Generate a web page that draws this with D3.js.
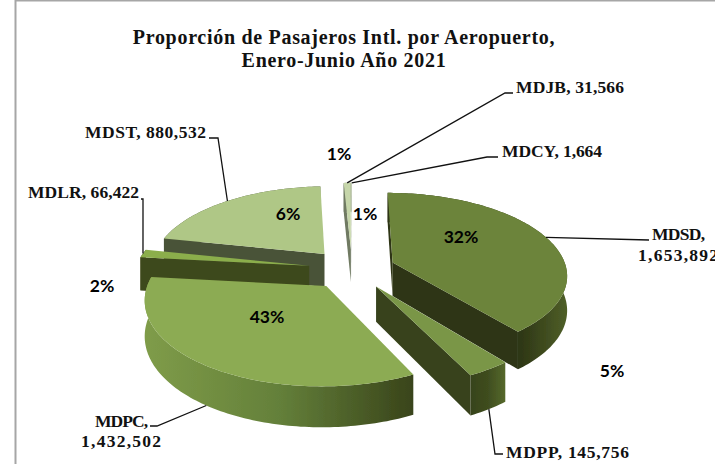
<!DOCTYPE html>
<html>
<head>
<meta charset="utf-8">
<title>Pasajeros Intl. por Aeropuerto</title>
<script src="https://cdn.jsdelivr.net/npm/d3@7"></script>
<style>
    html, body { margin: 0; padding: 0; background: #fff; }
    svg { display: block; }
    .title, .label { font-family: "Liberation Serif", serif; font-weight: bold; fill: #111; }
    .title { font-size: 20px; letter-spacing: 0.7px; }
    .label { font-size: 17.5px; }
    .pct { font-family: Lato, sans-serif; font-weight: bold; font-size: 17.5px; fill: #000; text-anchor: middle; }
</style>
</head>
<body>
<div id="chart"></div>
<script>
// data (clockwise from the top of the pie)
const airports = ["MDSD", "MDPP", "MDPC", "MDLR", "MDST", "MDJB", "MDCY"];
const passengers = [1653892, 145756, 1432502, 66422, 880532, 31566, 1664];
// the percentages printed on the chart do not follow the values, kept as printed
const printedPercents = ["32%", "5%", "43%", "2%", "6%", "1%", "1%"];
const titleLines = ["Proporción de Pasajeros Intl. por Aeropuerto,", "Enero-Junio Año 2021"];

// Setting the dimensions
const width = 715, height = 464;
const center = {x: 352, y: 269};
const radiusX = 174, radiusY = 81;
const explode = 0.25, perspective = 0.14, depth = 34;

// Colors of the top faces and side walls
const topColor = d3.scaleOrdinal().domain(airports)
    .range(["#6c843a", "#7a9647", "#8cab53", "#8bae4c", "#afc786", "#c6d6aa", "#c6d6aa"]);
const wallColor = d3.scaleOrdinal().domain(airports)
    .range(["#2d3515", "#37431b", "#3f4a1e", "#3e481b", "#4a5339", "#6f7a62", "#6f7a62"]);
const rimStops = {
    MDSD: ["#2d3515", "#2d3515", "#2d3515", "#2f3816", "#4f5f28"],
    MDPP: ["#37431b", "#3f4d1f", "#56692c"],
    MDPC: ["#7f9c49", "#64803a", "#39441a"],
    MDLR: ["#3e481b", "#3e481b"],
    MDST: ["#4a5339", "#4a5339"],
    MDJB: ["#6f7a62", "#6f7a62"],
    MDCY: ["#6f7a62", "#6f7a62"]
};

// Where the labels sit: line start, optional elbow, text lines as x, baseline, width
const labelLayout = {
    MDSD: {start: [649, 240], lines: [{x: 652, y: 240, w: 53, text: d => d.name + ","}, {x: 638, y: 261, w: 80, text: d => format(d.value)}]},
    MDPP: {start: [503, 454], elbow: [495, 454], lines: [{x: 506, y: 458, w: 123, text: d => d.name + ", " + format(d.value)}]},
    MDPC: {start: [150, 426], elbow: [157, 426], lines: [{x: 95, y: 427, w: 53, text: d => d.name + ","}, {x: 81, y: 447, w: 80, text: d => format(d.value)}]},
    MDLR: {start: [141, 199], elbow: [143, 199], lines: [{x: 28, y: 198, w: 111, text: d => d.name + ", " + format(d.value)}]},
    MDST: {start: [209, 138], elbow: [218, 138], lines: [{x: 85, y: 138, w: 121, text: d => d.name + ", " + format(d.value)}]},
    MDJB: {start: [513, 93], elbow: [505, 93], lines: [{x: 516, y: 93, w: 108, text: d => d.name + ", " + format(d.value)}]},
    MDCY: {start: [498, 157], elbow: [487, 157], lines: [{x: 502, y: 157, w: 100, text: d => d.name + ", " + format(d.value)}]}
};
const percentLayout = [[461, 243], [612, 377], [267, 323], [102, 292], [288, 220], [339, 160], [365, 220]];

const format = d3.format(",");

const svg = d3.select("#chart").append("svg")
    .attr("width", width)
    .attr("height", height);

// Chart frame, only the top and left edges fall inside the crop
svg.append("path")
    .attr("d", "M15.5," + height + "V0.5H" + width)
    .attr("fill", "none")
    .attr("stroke", "#a6a6a6")
    .attr("stroke-width", 2);

// Ground plane to screen
const x = d3.scaleLinear().domain([-1, 1]).range([center.x - radiusX, center.x + radiusX]);
const y = d3.scaleLinear().domain([-1, 1]).range([center.y + radiusY, center.y - radiusY]);

function project(px, py, drop) {
    const s = 1 / (1 + perspective * py);
    return [x(px * s), y(py * s) + (drop ? depth * s : 0)];
}

const pie = d3.pie().sort(null).value(function(d) { return d.value; });
const slices = pie(airports.map(function(name, i) {
    return {name: name, value: passengers[i], pct: printedPercents[i]};
}));

slices.forEach(function(d) {
    d.mid = (d.startAngle + d.endAngle) / 2;
    d.ox = explode * Math.sin(d.mid);
    d.oy = explode * Math.cos(d.mid);
    d.point = function(angle, r, drop) {
        return project(d.ox + r * Math.sin(angle), d.oy + r * Math.cos(angle), drop);
    };
    d.arc = function(drop) {
        const steps = Math.max(2, Math.ceil((d.endAngle - d.startAngle) / 0.02));
        return d3.range(steps + 1).map(function(i) {
            return d.point(d.startAngle + (d.endAngle - d.startAngle) * i / steps, 1, drop);
        });
    };
});

const line = d3.line();

const defs = svg.append("defs");
defs.append("filter").attr("id", "soft")
    .append("feGaussianBlur").attr("stdDeviation", 0.45);

const pieLayer = svg.append("g").attr("filter", "url(#soft)");

// a wall is seen only when it hangs on the side away from the slice interior
function wallVisible(d, angle) {
    const a = d.point(0, 0, false), b = d.point(angle, 1, false);
    const c = d.point(d.mid, 0.7, false);
    const ex = b[0] - a[0], ey = b[1] - a[1];
    return ex * (c[1] - a[1]) - ey * (c[0] - a[0]) > 0 !== ex > 0;
}

// Drawing the slices from back to front
slices.slice().sort(function(a, b) { return b.oy - a.oy; }).forEach(function(d, i) {
    const top = d.arc(false), bottom = d.arc(true);
    const g = pieLayer.append("g").attr("class", "slice");

    const stops = rimStops[d.data.name];
    const gradient = defs.append("linearGradient")
        .attr("id", "rim" + i)
        .attr("gradientUnits", "userSpaceOnUse")
        .attr("x1", d3.min(top, function(p) { return p[0]; }))
        .attr("x2", d3.max(top, function(p) { return p[0]; }))
        .attr("y1", 0).attr("y2", 0);
    stops.forEach(function(color, k) {
        gradient.append("stop").attr("offset", k / (stops.length - 1)).attr("stop-color", color);
    });

    g.append("path")
        .attr("d", line(top.concat(bottom.slice().reverse())) + "Z")
        .attr("fill", "url(#rim" + i + ")");

    [d.startAngle, d.endAngle].forEach(function(angle) {
        if (!wallVisible(d, angle)) return;
        g.append("path")
            .attr("d", line([d.point(0, 0, false), d.point(angle, 1, false),
                d.point(angle, 1, true), d.point(0, 0, true)]) + "Z")
            .attr("fill", wallColor(d.data.name));
    });

    g.append("path")
        .attr("d", line([d.point(0, 0, false)].concat(top)) + "Z")
        .attr("fill", topColor(d.data.name));
});

// Leader lines, the front slices take them from the bottom of the wall
slices.forEach(function(d) {
    const layout = labelLayout[d.data.name];
    const pts = [layout.start];
    if (layout.elbow) pts.push(layout.elbow);
    pts.push(d.point(d.mid, 1, Math.cos(d.mid) < -0.5));
    svg.append("path")
        .attr("d", line(pts))
        .attr("fill", "none")
        .attr("stroke", "#111")
        .attr("stroke-width", 1.3);

    layout.lines.forEach(function(t) {
        svg.append("text")
            .attr("class", "label")
            .attr("x", t.x)
            .attr("y", t.y)
            .attr("textLength", t.w)
            .attr("lengthAdjust", "spacing")
            .text(t.text(d.data));
    });
});

// Printed percentages
svg.selectAll(".pct")
    .data(slices)
    .enter().append("text")
    .attr("class", "pct")
    .attr("x", function(d, i) { return percentLayout[i][0]; })
    .attr("y", function(d, i) { return percentLayout[i][1]; })
    .text(function(d) { return d.data.pct; });

// Title
svg.selectAll(".title")
    .data(titleLines)
    .enter().append("text")
    .attr("class", "title")
    .attr("x", 344)
    .attr("y", function(d, i) { return 44 + i * 23; })
    .attr("text-anchor", "middle")
    .text(function(d) { return d; });
</script>
</body>
</html>
